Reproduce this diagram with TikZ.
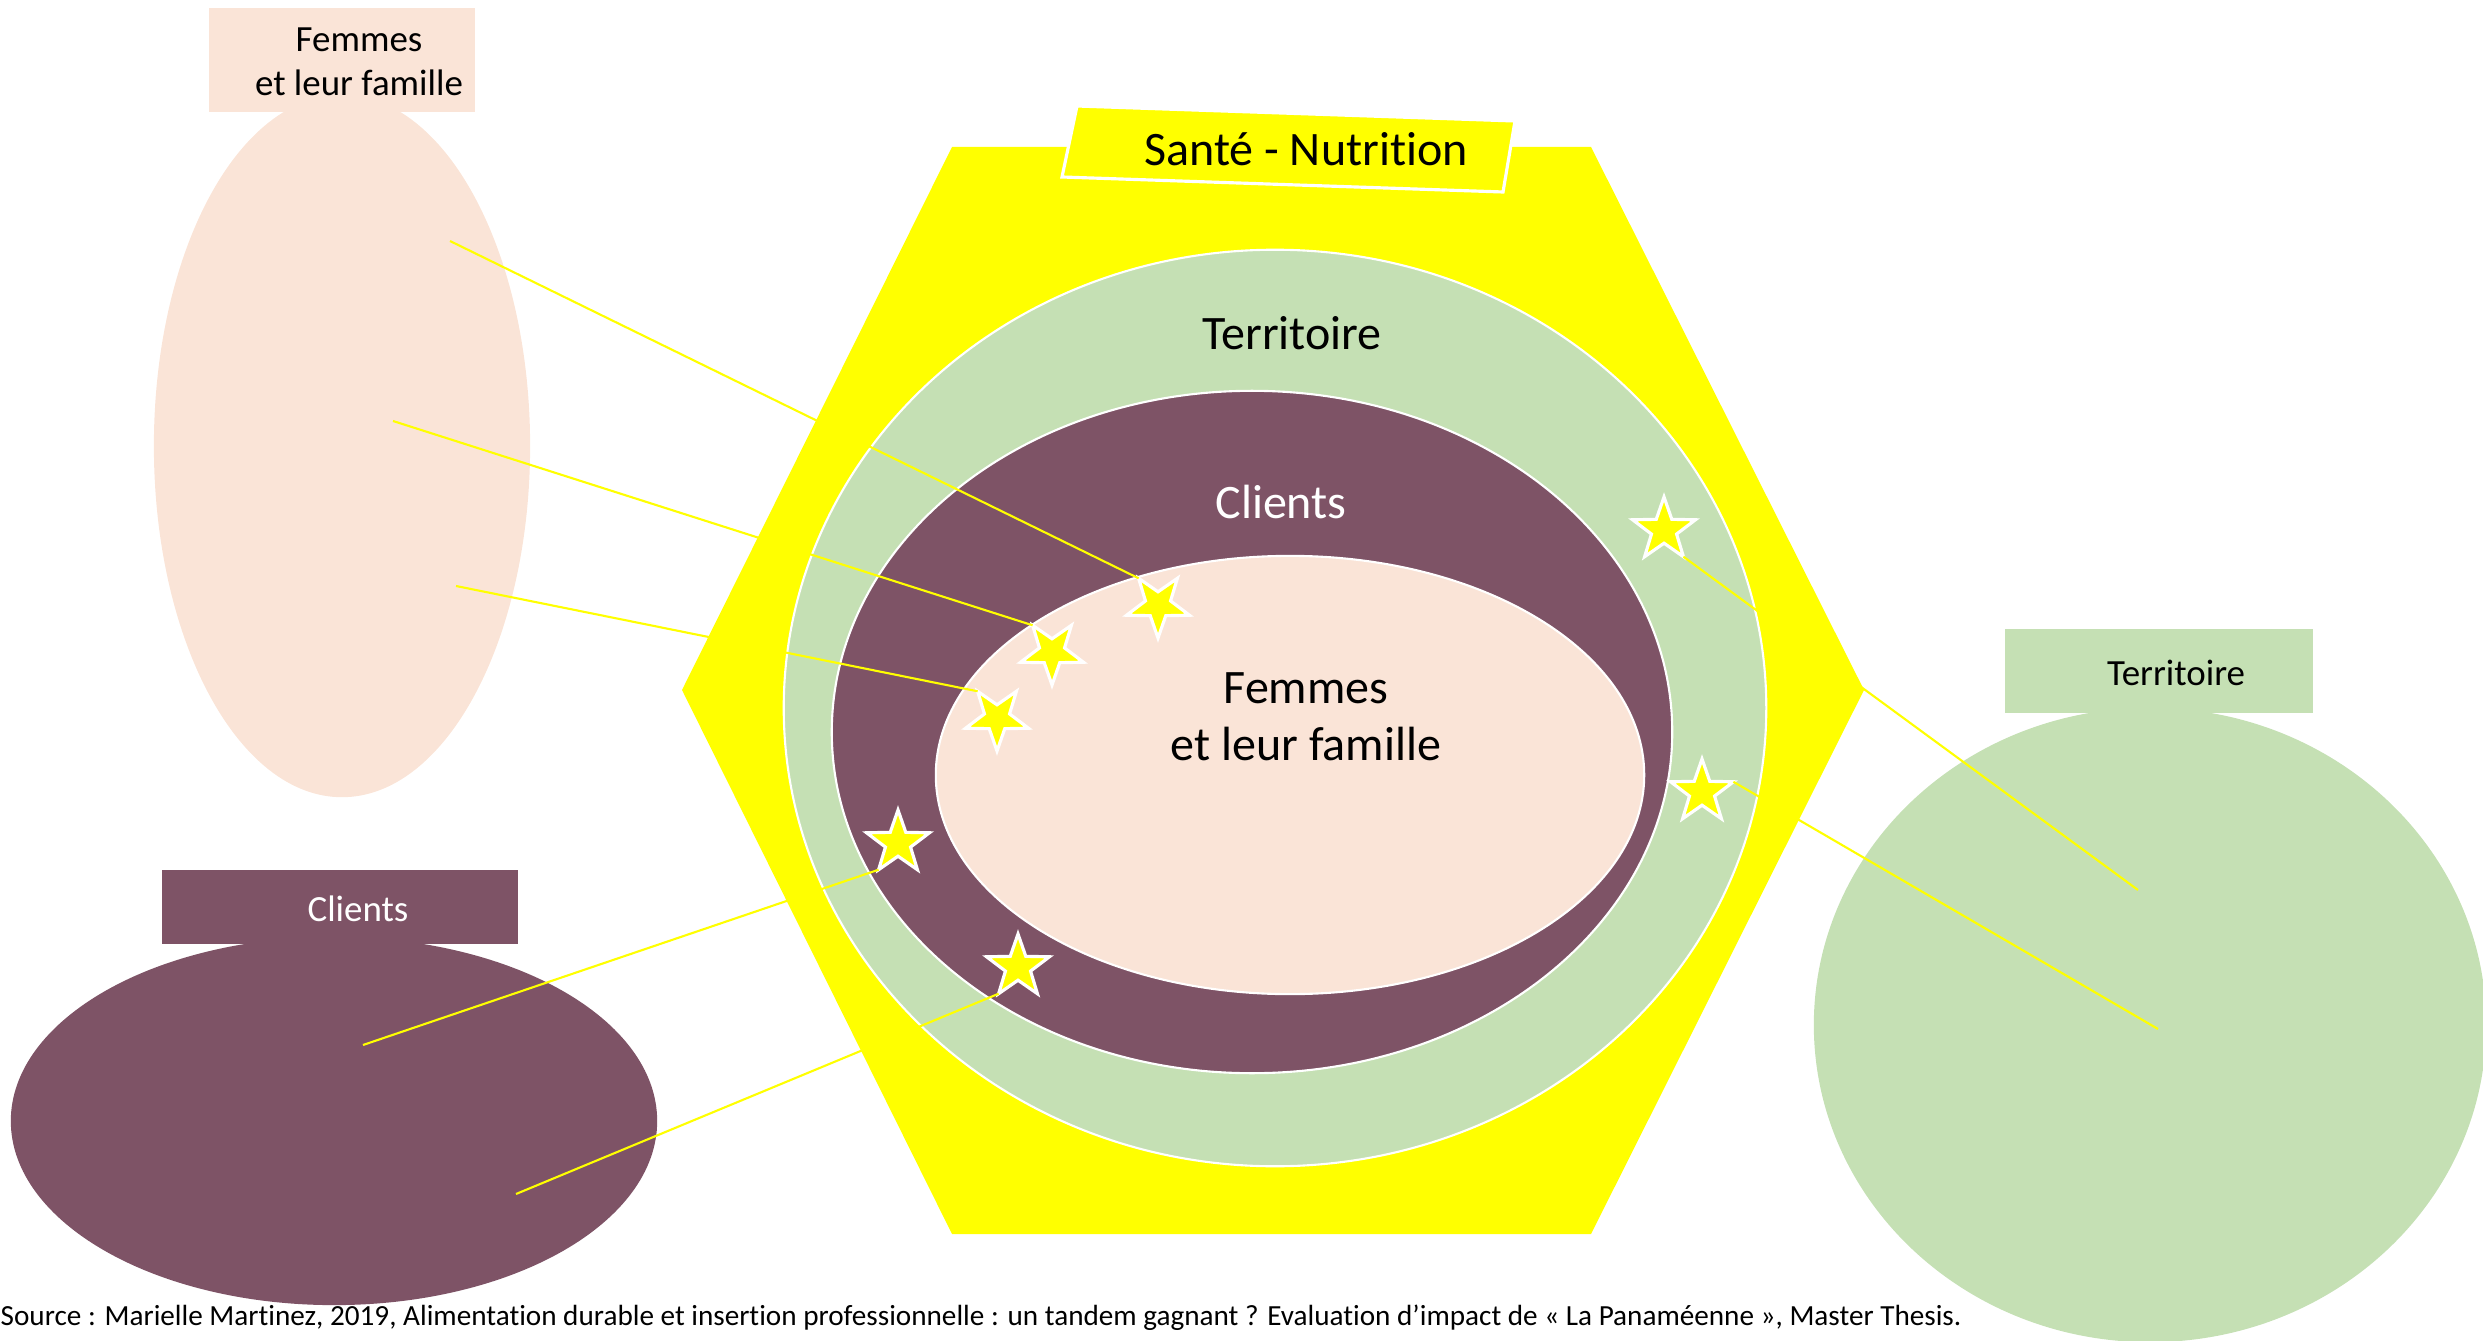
\documentclass[tikz,border=0pt]{standalone}
\usepackage{fontspec}
\setmainfont{Carlito}[Ligatures=NoCommon]
\usetikzlibrary{shapes.geometric}
\definecolor{hexyellow}{RGB}{255,255,0}
\definecolor{terrgreen}{RGB}{197,224,180}
\definecolor{clientplum}{RGB}{126,83,102}
\definecolor{femmepeach}{RGB}{250,228,215}
\begin{document}
\begin{tikzpicture}[x=0.01cm,y=-0.01cm,
  zone/.style={ellipse, inner sep=0pt, outer sep=0pt, draw=white, line width=0.6pt},
  sidezone/.style={ellipse, inner sep=0pt, outer sep=0pt},
  tag/.style={rectangle, inner sep=0pt, outer sep=0pt},
  bigtxt/.style={font=\fontsize{13.66}{16.2}\selectfont, align=center, inner sep=0pt},
  smalltxt/.style={font=\fontsize{10.5}{12.5}\selectfont, align=center, inner sep=0pt},
  spark/.style={star, star points=5, star point ratio=2.5, fill=hexyellow, draw=white, line width=0.9pt, minimum size=0.66cm, inner sep=0pt, outer sep=0pt},
  sparkdown/.style={spark, shape border rotate=180},
  link/.style={draw=hexyellow, line width=0.6pt}]

\useasboundingbox (0,0) rectangle (2483,1340);

% hexagon
\coordinate (h1) at (952,147);
\coordinate (h2) at (1591,147);
\coordinate (h3) at (1864,690);
\coordinate (h4) at (1591,1234);
\coordinate (h5) at (952,1234);
\coordinate (h6) at (682,690);
\fill[hexyellow] (h1) -- (h2) -- (h3) -- (h4) -- (h5) -- (h6) -- cycle;

% title box
\coordinate (t1) at (1077,106);
\coordinate (t2) at (1515,121);
\coordinate (t3) at (1503,192);
\coordinate (t4) at (1062,177);
\filldraw[fill=hexyellow, draw=white, line width=0.9pt] (t1) -- (t2) -- (t3) -- (t4) -- cycle;
\node[bigtxt, anchor=base] (title) at (1306,166) {Santé - Nutrition};

% central ellipses
\node[zone, fill=terrgreen, minimum width=9.82cm, minimum height=9.16cm] (terr) at (1275,708) {};
\node[zone, fill=clientplum, minimum width=8.40cm, minimum height=6.82cm] (cli) at (1252,732) {};
\node[zone, fill=femmepeach, minimum width=7.08cm, minimum height=4.38cm] (fem) at (1290,775) {};
\node[bigtxt] (terrtxt) at (1292,333) {Territoire};
\node[bigtxt, text=white] (clitxt) at (1281,502) {Clients};
\node[bigtxt] (femtxt) at (1306,717) {Femmes\\et leur famille};

% left top
\node[sidezone, fill=femmepeach, minimum width=3.76cm, minimum height=7.02cm] (femL) at (342,446) {};
\node[tag, fill=femmepeach, minimum width=2.66cm, minimum height=1.04cm] (femtag) at (342,60) {};
\node[smalltxt] (femtagtxt) at (359,62) {Femmes\\et leur famille};

% left bottom
\node[sidezone, fill=clientplum, minimum width=6.46cm, minimum height=3.68cm] (cliL) at (334,1121) {};
\node[tag, fill=clientplum, minimum width=3.56cm, minimum height=0.73cm] (clitag) at (340,907) {};
\node[smalltxt, text=white] (clitagtxt) at (358,909) {Clients};

% right
\node[sidezone, fill=terrgreen, minimum width=6.72cm, minimum height=6.34cm] (terrR) at (2150,1025) {};
\node[tag, fill=terrgreen, minimum width=3.08cm, minimum height=0.83cm] (terrtag) at (2159,671) {};
\node[smalltxt] (terrtagtxt) at (2176,673) {Territoire};

% source
\node[anchor=base west, inner sep=0pt, font=\fontsize{8.3}{10}\selectfont] (src) at (0,1325) {Source : Marielle Martinez, 2019, Alimentation durable et insertion professionnelle : un tandem gagnant ? Evaluation d’impact de « La Panaméenne », Master Thesis.};

% stars
\node[sparkdown] (s1) at (1158,605) {};
\node[sparkdown] (s2) at (1052,652) {};
\node[sparkdown] (s3) at (997,718) {};
\node[spark] (s4) at (898,843) {};
\node[spark] (s5) at (1018,967) {};
\node[spark] (s6) at (1664,530) {};
\node[spark] (s7) at (1702,792) {};

% connectors
\coordinate (p1) at (450,241);
\coordinate (p2) at (393,421);
\coordinate (p3) at (456,586);
\coordinate (p4) at (363,1045);
\coordinate (p5) at (516,1194);
\coordinate (p6) at (2138,890);
\coordinate (p7) at (2158,1029);
\draw[link] (p1) -- (s1.outer point 4);
\draw[link] (p2) -- (s2.outer point 4);
\draw[link] (p3) -- (s3.outer point 4);
\draw[link] (p4) -- (s4.outer point 3);
\draw[link] (p5) -- (s5.outer point 3);
\draw[link] (p6) -- (s6.outer point 4);
\draw[link] (p7) -- (s7.outer point 5);
\end{tikzpicture}
\end{document}
